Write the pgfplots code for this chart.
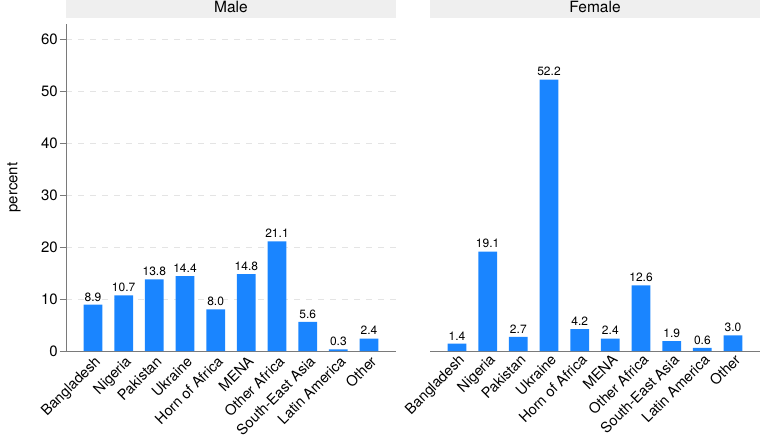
\documentclass[border=0pt]{standalone}
\usepackage{pgfplots}
\pgfplotsset{compat=1.18}
\usepackage{pgfplotstable}
\usepackage{fontspec}
\setmainfont{TeX Gyre Heros}

\definecolor{barblue}{HTML}{1A85FF}
\definecolor{stripgray}{HTML}{EFEFEF}
\definecolor{gridgray}{HTML}{E4E4E4}
\definecolor{axisgray}{HTML}{7A7A7A}

% share of each origin group, by sex (percent)
\pgfplotstableread{
idx male female
0 8.9 1.4
1 10.7 19.1
2 13.8 2.7
3 14.4 52.2
4 8.0 4.2
5 14.8 2.4
6 21.1 12.6
7 5.6 1.9
8 0.3 0.6
9 2.4 3.0
}\origins

\pgfplotsset{
  panel/.style={
    scale only axis,
    width=330pt, height=327pt,
    xmin=-0.88, xmax=9.88,
    ymin=0, ymax=62.9,
    ytick={0,10,...,60},
    xtick={0,...,9},
    xticklabels={Bangladesh,Nigeria,Pakistan,Ukraine,Horn of Africa,MENA,Other Africa,South-East Asia,Latin America,Other},
    font=\fontsize{15}{18}\selectfont,
    /pgf/number format/assume math mode=true,
    xticklabel style={rotate=45, anchor=north east, inner sep=1pt, xshift=3pt, yshift=2pt, font=\fontsize{14.5}{17}\selectfont},
    major x tick style={draw=none},
    ymajorgrids,
    major grid style={draw=gridgray, dash pattern=on 6pt off 6pt, line width=0.8pt},
    axis x line*=bottom,
    x axis line style={draw=axisgray, line width=0.8pt, -},
    ybar, bar width=18.7pt,
    nodes near coords,
    nodes near coords style={text=black, font=\fontsize{12}{14}\selectfont, /pgf/number format/.cd, fixed, fixed zerofill, precision=1, assume math mode=true},
    title style={at={(0.5,1)}, anchor=south, fill=stripgray, minimum width=330pt, minimum height=21pt, inner sep=0pt, font=\fontsize{15.5}{18}\selectfont},
    clip=false,
  }
}

\begin{document}
\begin{tikzpicture}
\begin{axis}[panel, at={(0pt,0pt)}, anchor=south west,
  title={Male},
  axis y line*=left,
  y axis line style={draw=axisgray, line width=0.8pt, -},
  major y tick style={draw=axisgray, line width=0.8pt},
  ytick align=outside, major tick length=6pt,
  ylabel={percent}, ylabel style={font=\fontsize{15}{18}\selectfont, at={(-52pt,0.5)}, anchor=center},
  yticklabel style={inner sep=2pt},
]
\addplot[fill=barblue, draw=none] table[x=idx, y=male] {\origins};
\end{axis}
\begin{axis}[panel, at={(364pt,0pt)}, anchor=south west,
  title={Female},
  axis y line=none,
]
\addplot[fill=barblue, draw=none] table[x=idx, y=female] {\origins};
\end{axis}
\pgfresetboundingbox
\path[use as bounding box] (-66pt,-83pt) rectangle (696pt,351pt);
\end{tikzpicture}
\end{document}
